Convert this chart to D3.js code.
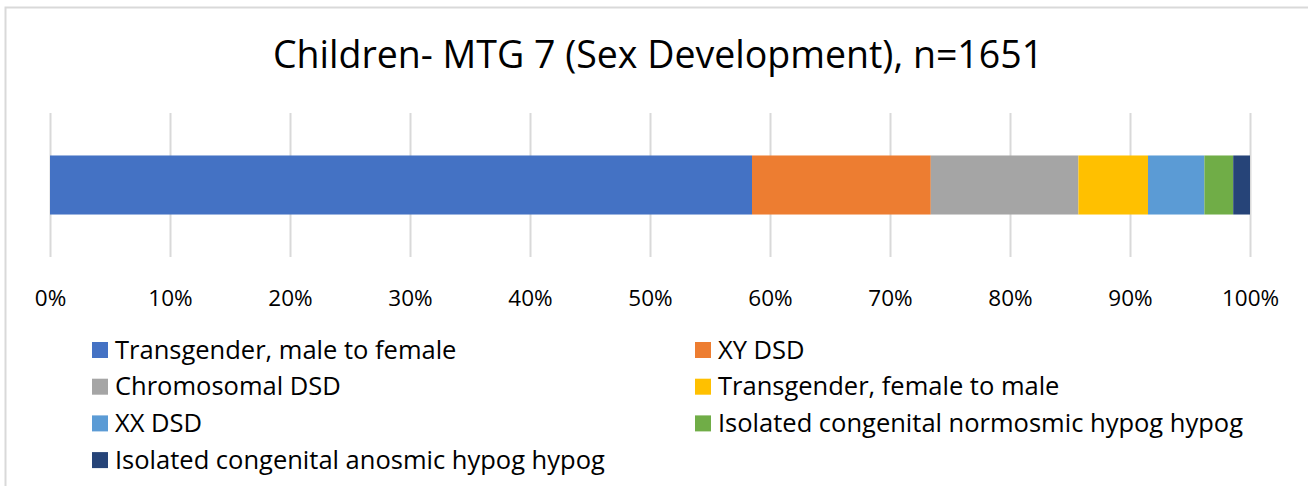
<!DOCTYPE html>
<html>
<head>
<meta charset="utf-8">
<script src="https://cdn.jsdelivr.net/npm/d3@7"></script>
<style>
  body { margin: 0; background: #fff; }
  svg text { font-family: "Open Sans", Lato, sans-serif; fill: #000; }
</style>
</head>
<body>
<div id="chart"></div>
<script>
const categories = [
  "Transgender, male to female",
  "XY DSD",
  "Chromosomal DSD",
  "Transgender, female to male",
  "XX DSD",
  "Isolated congenital normosmic hypog hypog",
  "Isolated congenital anosmic hypog hypog",
];
const shares = [58.5, 14.9, 12.3, 5.8, 4.7, 2.4, 1.4];
const colors = ["#4472c4", "#ed7d31", "#a5a5a5", "#ffc000", "#5b9bd5", "#70ad47", "#264478"];
const ticks = [0, 0.1, 0.2, 0.3, 0.4, 0.5, 0.6, 0.7, 0.8, 0.9, 1];
const title = "Children- MTG 7 (Sex Development), n=1651";

const width = 1308, height = 486;
const plot = { left: 50, right: 1250, top: 113, bottom: 257 };

const svg = d3.select("#chart").append("svg")
  .attr("width", width).attr("height", height);

// chart border (only top and left show in the crop)
svg.append("path")
  .attr("d", `M5.5,${height} V7.5 H${width}`)
  .attr("fill", "none")
  .attr("stroke", "#d9d9d9")
  .attr("stroke-width", 2);

svg.append("text")
  .attr("x", 658).attr("y", 68)
  .attr("text-anchor", "middle")
  .style("font-size", "37.5px")
  .text(title);

const total = d3.sum(shares);
const x = d3.scaleLinear().domain([0, 1]).range([plot.left, plot.right]);
const y = d3.scaleBand().domain(["all"]).range([plot.top, plot.bottom]).paddingInner(0.59).paddingOuter(0.295);

// gridlines + labels
const gAxis = svg.append("g").attr("transform", `translate(0,${plot.bottom})`);
gAxis.call(d3.axisBottom(x).tickValues(ticks).tickFormat(d3.format(".0%")).tickSize(-(plot.bottom - plot.top)).tickPadding(33))
  .call(g => g.select(".domain").remove())
  .call(g => g.selectAll(".tick line").attr("stroke", "#d9d9d9").attr("stroke-width", 2))
  .call(g => g.selectAll(".tick text").style("font-size", "22.5px").attr("fill", "#000"));

// stacked segments
const stacked = shares.map((v, i) => {
  const start = d3.sum(shares.slice(0, i)) / total;
  return { name: categories[i], x0: start, x1: start + v / total, color: colors[i] };
});
svg.append("g").selectAll("rect")
  .data(stacked)
  .join("rect")
  .attr("x", d => x(d.x0))
  .attr("width", d => x(d.x1) - x(d.x0))
  .attr("y", y("all"))
  .attr("height", y.bandwidth())
  .attr("fill", d => d.color);

// legend, two columns
const legend = svg.append("g").selectAll("g")
  .data(stacked)
  .join("g")
  .attr("transform", (d, i) => `translate(${i % 2 ? 695 : 92},${350 + Math.floor(i / 2) * 36.7})`);
legend.append("rect")
  .attr("x", 0).attr("y", -8)
  .attr("width", 16).attr("height", 16)
  .attr("fill", d => d.color);
legend.append("text")
  .attr("x", 23).attr("y", 8.5)
  .style("font-size", "25.5px")
  .text(d => d.name);
</script>
</body>
</html>
